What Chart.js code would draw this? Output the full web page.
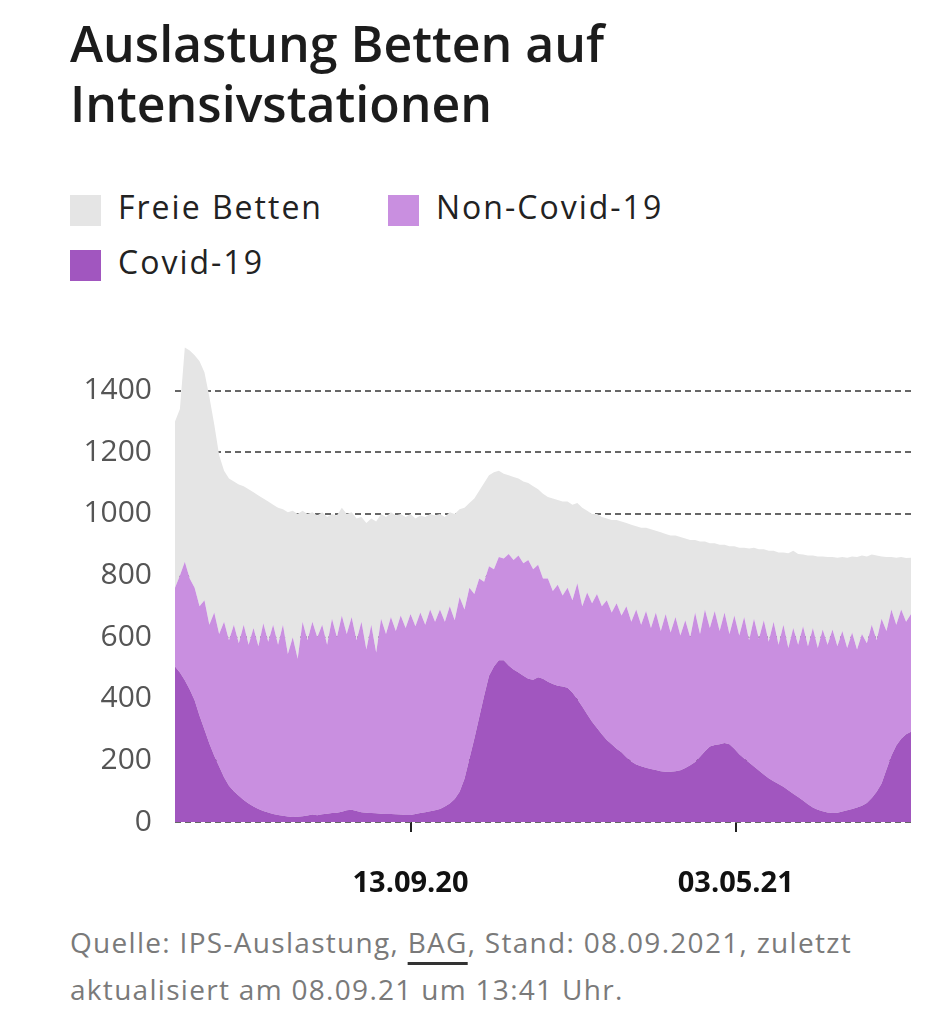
<!DOCTYPE html>
<html>
<head>
<meta charset="utf-8">
<script src="https://cdn.jsdelivr.net/npm/chart.js@4"></script>
<style>
  html, body { margin: 0; padding: 0; background: #fff; }
  body { width: 948px; height: 1025px; position: relative; overflow: hidden; font-family: 'Open Sans', sans-serif; }
  h1 { position: absolute; left: 70px; top: 13px; margin: 0; font-size: 50px; line-height: 60px; font-weight: 600; color: #1c1c1c; }
  .legend { position: absolute; font-size: 32px; color: #222; letter-spacing: 2px; }
  .legend span { position: absolute; width: 31px; height: 31px; left: 0; top: 0; }
  .legend div { position: absolute; left: 48px; top: -10px; white-space: nowrap; }
  #chart { position: absolute; left: 0; top: 300px; }
  .source { position: absolute; left: 70px; top: 919px; font-size: 28px; line-height: 47px; color: #7a7a7a; letter-spacing: 1.3px; white-space: nowrap; }
  .source u { text-decoration-thickness: 3px; text-underline-offset: 9px; text-decoration-color: #333; }
</style>
</head>
<body>
<h1>Auslastung Betten auf<br>Intensivstationen</h1>
<div class="legend" style="left:70px;top:195px"><span style="background:#e5e5e5"></span><div>Freie Betten</div></div>
<div class="legend" style="left:388px;top:195px"><span style="background:#c98fe0"></span><div>Non-Covid-19</div></div>
<div class="legend" style="left:70px;top:250px"><span style="background:#a156bf"></span><div>Covid-19</div></div>
<canvas id="chart" width="948" height="610"></canvas>
<div class="source">Quelle: IPS-Auslastung, <u>BAG</u>, Stand: 08.09.2021, zuletzt<br>aktualisiert am 08.09.21 um 13:41 Uhr.</div>
<script>
// one value every 3.5 days, starting 30.03.2020
const stepDays = 3.5

// Covid-19 patients on ICU
const covid = [
  505, 485, 460, 430, 395, 345, 300, 255, 215, 180,
  145, 118, 100, 85, 71, 60, 50, 42, 36, 31,
  26, 23, 20, 18, 16, 17, 19, 21, 24, 22,
  25, 27, 29, 30, 33, 38, 40, 36, 32, 30,
  29, 28, 27, 26, 26, 25, 24, 23, 23, 26,
  29, 32, 35, 38, 42, 50, 60, 75, 98, 140,
  205, 270, 340, 410, 475, 505, 525, 525, 508, 495,
  485, 475, 465, 462, 470, 465, 455, 448, 442, 440,
  436, 420, 398, 375, 350, 325, 305, 285, 266, 252,
  238, 226, 210, 196, 187, 181, 176, 172, 169, 165,
  163, 163, 165, 168, 175, 184, 195, 212, 230, 245,
  250, 252, 256, 252, 238, 220, 206, 193, 180, 167,
  154, 142, 132, 123, 114, 103, 92, 81, 70, 58,
  47, 40, 35, 31, 29, 30, 34, 38, 42, 47,
  53, 62, 78, 98, 125, 170, 215, 248, 270, 285,
  293
]

// occupied beds (Covid-19 + Non-Covid-19)
const belegt = [
  760, 800, 845, 790, 760, 700, 720, 640, 680, 610,
  650, 590, 640, 580, 640, 575, 630, 570, 645, 585,
  640, 575, 640, 545, 600, 530, 650, 590, 650, 600,
  640, 575, 660, 600, 670, 610, 665, 590, 650, 560,
  640, 550, 660, 610, 665, 620, 670, 630, 675, 635,
  680, 640, 690, 650, 690, 650, 700, 655, 730, 690,
  760, 740, 790, 780, 830, 820, 860, 855, 870, 850,
  865, 840, 850, 820, 835, 790, 790, 750, 770, 735,
  760, 720, 775, 700, 745, 710, 740, 700, 720, 680,
  710, 670, 700, 650, 690, 640, 685, 630, 680, 620,
  675, 615, 665, 605, 655, 600, 680, 610, 690, 630,
  685, 620, 680, 610, 670, 605, 665, 590, 660, 595,
  655, 585, 650, 575, 640, 565, 630, 575, 635, 570,
  630, 565, 625, 575, 625, 570, 620, 565, 615, 560,
  610, 580, 640, 590, 660, 620, 690, 640, 690, 650,
  675
]

// all operational ICU beds (occupied + free)
const bettenTotal = [
  1300, 1340, 1540, 1530, 1515, 1495, 1460, 1380, 1290, 1190,
  1140, 1115, 1105, 1095, 1090, 1080, 1070, 1060, 1050, 1040,
  1030, 1020, 1015, 1005, 1010, 1000, 1010, 1000, 1005, 995,
  1005, 990, 1000, 995, 1020, 1000, 1005, 985, 990, 970,
  985, 975, 1000, 990, 1005, 995, 1000, 990, 1000, 985,
  995, 990, 1000, 995, 1000, 990, 1005, 1000, 1015, 1020,
  1035, 1050, 1075, 1100, 1125, 1135, 1140, 1130, 1125, 1120,
  1115, 1105, 1100, 1090, 1080, 1065, 1055, 1050, 1045, 1040,
  1040, 1030, 1035, 1020, 1010, 1000, 1000, 990, 985, 980,
  980, 975, 970, 965, 960, 955, 955, 950, 945, 940,
  935, 930, 930, 925, 920, 915, 915, 910, 910, 905,
  905, 900, 900, 895, 895, 890, 890, 888, 890, 885,
  885, 880, 880, 875, 875, 872, 880, 870, 868, 865,
  865, 862, 862, 860, 860, 858, 860, 858, 862, 860,
  865, 862, 868, 865, 862, 860, 860, 858, 860, 857,
  858
]

// x ticks: days after 30.03.2020
const xTickDays = [168, 400]
const xTickLabels = ['13.09.20', '03.05.21']
const yTicks = [0, 200, 400, 600, 800, 1000, 1200, 1400]

const toPoints = (values) => values.map(function (v, i) {
  return { x: i * stepDays, y: v }
})

const ctx = document.getElementById('chart')
const myChart = new Chart(ctx, {
  type: 'line',
  data: {
    datasets: [{
      label: 'Covid-19',
      data: toPoints(covid),
      backgroundColor: '#a156bf',
      fill: 'origin'
    }, {
      label: 'Non-Covid-19',
      data: toPoints(belegt),
      backgroundColor: '#c98fe0',
      fill: '-1'
    }, {
      label: 'Freie Betten',
      data: toPoints(bettenTotal),
      backgroundColor: '#e5e5e5',
      fill: '-1'
    }]
  },
  options: {
    responsive: false,
    animation: false,
    events: [],
    elements: {
      line: { borderWidth: 0, borderColor: 'transparent', tension: 0 },
      point: { radius: 0 }
    },
    layout: { padding: { top: 29, right: 37, left: 0, bottom: 0 } },
    plugins: { legend: { display: false }, tooltip: { enabled: false } },
    scales: {
      x: {
        type: 'linear',
        min: 0,
        max: 525,
        afterBuildTicks: (scale) => {
          scale.ticks = xTickDays.map((d) => ({ value: d }))
        },
        afterFit: (scale) => {
          scale.height = 88
          scale.paddingLeft = 0
          scale.paddingRight = 0
        },
        border: { display: false },
        grid: { drawOnChartArea: false, drawTicks: true, tickLength: 10, color: '#222', lineWidth: 2 },
        ticks: {
          padding: 34,
          color: '#111',
          font: { family: 'Open Sans', size: 29, weight: 'bold' },
          callback: (value) => xTickLabels[xTickDays.indexOf(value)]
        }
      },
      y: {
        min: 0,
        max: 1600,
        afterBuildTicks: (scale) => {
          scale.ticks = yTicks.map((v) => ({ value: v }))
        },
        afterFit: (scale) => {
          scale.width = 175
          scale.paddingTop = 0
          scale.paddingBottom = 0
        },
        grid: { color: '#666', lineWidth: 2, tickLength: 0, drawTicks: false },
        border: { display: false, dash: [6, 4] },
        ticks: {
          padding: 23,
          color: '#555',
          font: { family: 'Open Sans', size: 30 },
          callback: (value) => String(value)
        }
      }
    }
  }
})
</script>
</body>
</html>
